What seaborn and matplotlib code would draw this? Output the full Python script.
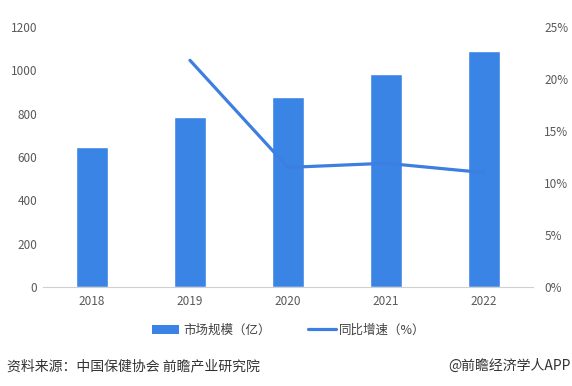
import matplotlib
matplotlib.use("Agg")
import matplotlib.pyplot as plt
import seaborn as sns
import pandas as pd
from matplotlib.lines import Line2D
from matplotlib.patches import Patch

years = ["2018", "2019", "2020", "2021", "2022"]
market_size = [646, 785, 877, 983, 1089]
growth_years = ["2019", "2020", "2021", "2022"]
growth_rate = [21.8, 11.5, 11.9, 11.0]

sns.set_theme(style="white")
plt.rcParams['font.family'] = ['Noto Sans CJK SC', 'DejaVu Sans']

fig = plt.figure(figsize=(5.72, 3.86), dpi=100)
ax = fig.add_axes([0.075, 0.2565, 0.857, 0.6735])

df = pd.DataFrame({"year": years, "size": market_size})
sns.barplot(data=df, x="year", y="size", ax=ax, color="#3A84E6",
            width=0.32, saturation=1)
ax.set_xlim(-0.5, 4.5)
ax.set_ylim(0, 1200)
ax.set_yticks(range(0, 1201, 200))
ax.set_xlabel("")
ax.set_ylabel("")
for s in ["top", "right", "left"]:
    ax.spines[s].set_visible(False)
ax.spines["bottom"].set_color("#d0d0d0")
ax.spines["bottom"].set_linewidth(0.8)
ax.tick_params(axis="both", length=0, labelsize=8.5, colors="#595959")
ax.tick_params(axis="y", pad=4)
ax.tick_params(axis="x", pad=6)

ax2 = ax.twinx()
gx = [years.index(y) for y in growth_years]
sns.lineplot(x=gx, y=growth_rate, ax=ax2, color="#3D7FE0", linewidth=2.3)
ax2.set_ylim(0, 25)
ax2.set_yticks(range(0, 26, 5))
ax2.set_yticklabels([f"{v}%" for v in range(0, 26, 5)])
ax2.set_xlim(-0.5, 4.5)
for s in ["top", "right", "left", "bottom"]:
    ax2.spines[s].set_visible(False)
ax2.tick_params(axis="y", length=0, labelsize=8.5, colors="#595959", pad=8)
ax2.grid(False)
ax.grid(False)

handles = [Patch(facecolor="#3A84E6", edgecolor="none"),
           Line2D([0], [0], color="#3D7FE0", linewidth=2.3)]
fig.legend(handles, ["市场规模（亿）", "同比增速（%）"], loc="center",
           bbox_to_anchor=(0.505, 0.145), ncol=2, frameon=False,
           fontsize=9, handlelength=2.2, handleheight=0.7,
           columnspacing=3.0, handletextpad=0.3, labelcolor="#404040")

fig.text(0.012, 0.052, "资料来源：中国保健协会 前瞻产业研究院", fontsize=10,
         color="#333333", ha="left", va="center")
fig.text(0.997, 0.052, "@前瞻经济学人APP", fontsize=10,
         color="#333333", ha="right", va="center")

fig.savefig("out.png", dpi=100)
